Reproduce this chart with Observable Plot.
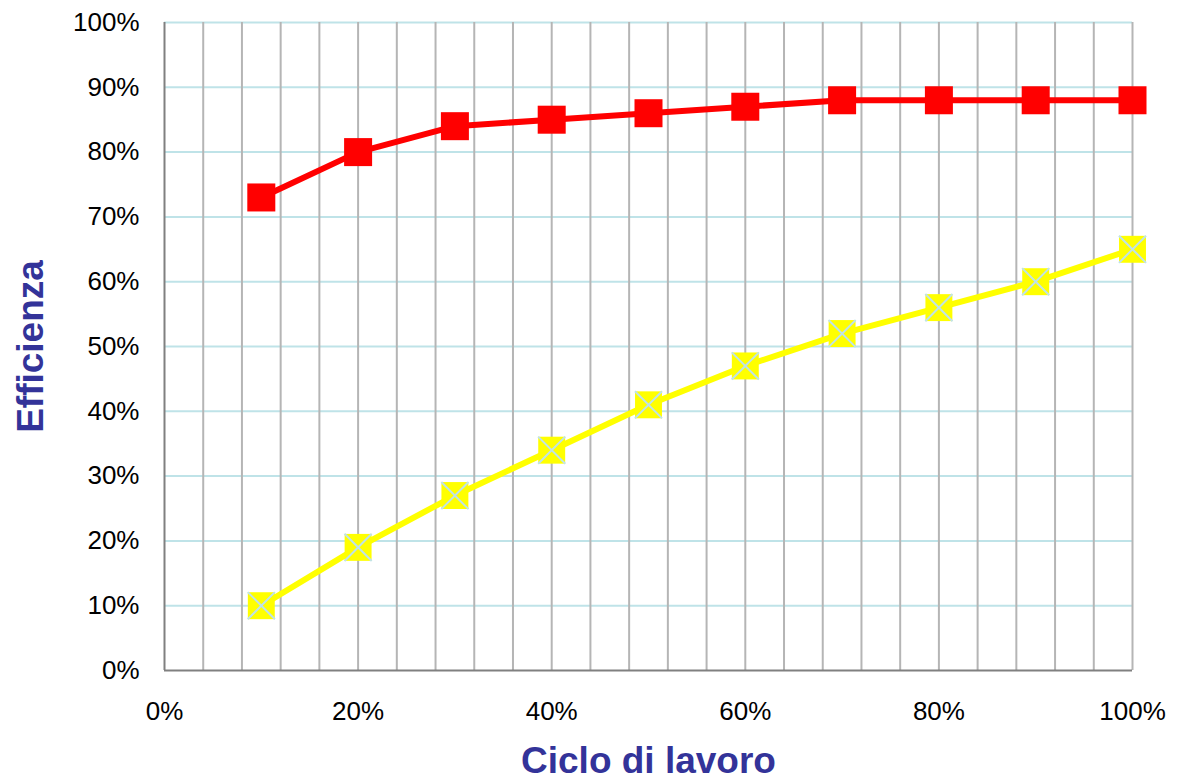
<!DOCTYPE html>
<html>
<head>
<meta charset="utf-8">
<script src="https://cdn.jsdelivr.net/npm/d3@7"></script>
<script src="https://cdn.jsdelivr.net/npm/@observablehq/plot@0.6"></script>
<style>
  html, body { margin: 0; padding: 0; background: #fff; }
  #chart svg { display: block; }
</style>
</head>
<body>
<div id="chart"></div>
<script>
// Data (fractions of 1)
const dutyCycle = [0.1, 0.2, 0.3, 0.4, 0.5, 0.6, 0.7, 0.8, 0.9, 1.0];
const seriesRed = [0.73, 0.80, 0.84, 0.85, 0.86, 0.87, 0.88, 0.88, 0.88, 0.88];
const seriesYellow = [0.10, 0.19, 0.27, 0.34, 0.41, 0.47, 0.52, 0.56, 0.60, 0.65];
const xTickLabels = [0, 0.2, 0.4, 0.6, 0.8, 1.0];
const yTickLabels = [0, 0.1, 0.2, 0.3, 0.4, 0.5, 0.6, 0.7, 0.8, 0.9, 1.0];
const xGridLines = [0.04, 0.08, 0.12, 0.16, 0.2, 0.24, 0.28, 0.32, 0.36, 0.4, 0.44, 0.48, 0.52, 0.56, 0.6, 0.64, 0.68, 0.72, 0.76, 0.8, 0.84, 0.88, 0.92, 0.96, 1.0];
const yGridLines = [0.1, 0.2, 0.3, 0.4, 0.5, 0.6, 0.7, 0.8, 0.9, 1.0];
const xTitle = "Ciclo di lavoro";
const yTitle = "Efficienza";

const red = dutyCycle.map((x, i) => ({x, y: seriesRed[i]}));
const yellow = dutyCycle.map((x, i) => ({x, y: seriesYellow[i]}));

const pct = d => Math.round(d * 100) + "%";
const titleColor = "#333399";

const chart = Plot.plot({
  width: 1177,
  height: 781,
  marginLeft: 164,
  marginRight: 45,
  marginTop: 22,
  marginBottom: 111,
  style: {fontFamily: "'Liberation Sans', Arial, sans-serif", fontSize: "26px", color: "#000", background: "#fff"},
  x: {domain: [0, 1]},
  y: {domain: [0, 1]},
  marks: [
    Plot.ruleY(yGridLines, {stroke: "#bfe3e8", strokeWidth: 2}),
    Plot.ruleX(xGridLines, {stroke: "#b5b5b5", strokeWidth: 2}),
    Plot.ruleX([0], {stroke: "#808080", strokeWidth: 2}),
    Plot.ruleY([0], {stroke: "#808080", strokeWidth: 2}),
    Plot.axisY({ticks: yTickLabels, tickFormat: pct, tickSize: 0, tickPadding: 25, label: null, fontSize: 26, fill: "#000"}),
    Plot.axisX({ticks: xTickLabels, tickFormat: pct, tickSize: 0, tickPadding: 31, label: null, fontSize: 26, fill: "#000"}),
    Plot.line(red, {x: "x", y: "y", stroke: "#ff0000", strokeWidth: 6}),
    Plot.dot(red, {x: "x", y: "y", symbol: "square", r: 15.8, fill: "#ff0000", stroke: "none"}),
    Plot.line(yellow, {x: "x", y: "y", stroke: "#ffff00", strokeWidth: 6}),
    Plot.dot(yellow, {x: "x", y: "y", symbol: "square", r: 15.2, fill: "#ffff00", stroke: "none"}),
    Plot.dot(yellow, {x: "x", y: "y", symbol: "times", r: 12.4, stroke: "#bfe3e8", strokeWidth: 2}),
    Plot.text([xTitle], {frameAnchor: "bottom", dy: 102, textAnchor: "middle", fontSize: 37, fontWeight: "bold", fill: titleColor}),
    Plot.text([yTitle], {frameAnchor: "left", dx: -133, rotate: -90, textAnchor: "middle", lineAnchor: "middle", fontSize: 37, fontWeight: "bold", fill: titleColor})
  ]
});
document.getElementById("chart").appendChild(chart);
</script>
</body>
</html>
